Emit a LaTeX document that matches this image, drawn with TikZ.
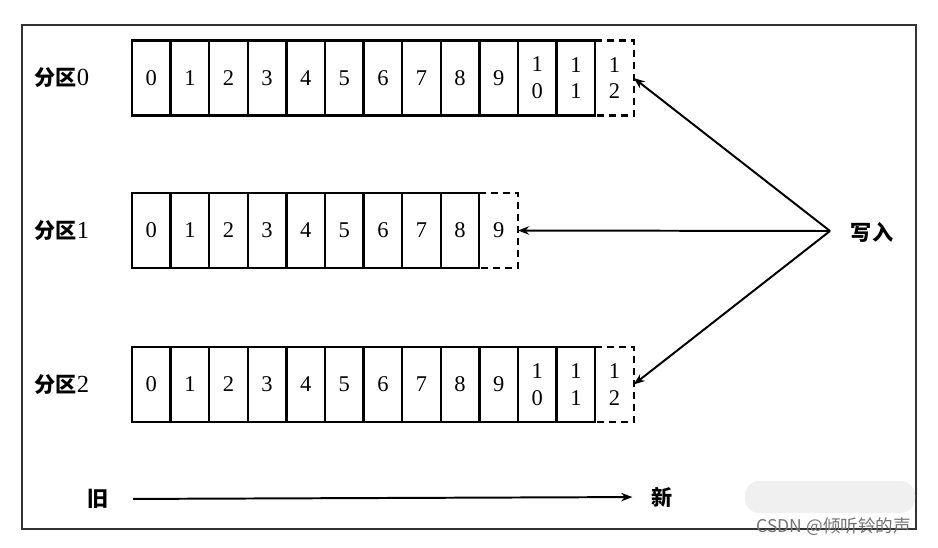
\documentclass[tikz,border=0pt]{standalone}
\usepackage{fontspec}
\setmainfont{Liberation Serif}
\newfontfamily\cjk{Noto Sans CJK SC}
\usetikzlibrary{positioning, arrows.meta}
\tikzstyle{cell} = [rectangle, minimum width=27.4pt, minimum height=53.3pt, inner sep=0pt, outer sep=0pt, draw=black, line width=1.6pt, align=center, font=\fontsize{16}{19}\selectfont]
\tikzstyle{newcell} = [cell, draw=none]
\tikzstyle{dashedge} = [line width=1.6pt, dash pattern=on 5pt off 3.5pt]
\tikzstyle{partlabel} = [font=\fontsize{15}{18}\selectfont]
\tikzstyle{arrow} = [line width=1.4pt, -{Stealth[length=8pt, width=6pt]}]
\newcommand{\celltext}[1]{\ifnum#1>9 1\\\the\numexpr#1-10\relax\else#1\fi}

\begin{document}
\begin{tikzpicture}[x=0.025cm, y=-0.025cm]
    \useasboundingbox (0,0) rectangle (938,547);
    \draw[line width=1.5pt, black!80] (22,25) rectangle (916,529);

    %Partitions
    \foreach \r/\y/\last in {0/78/12, 1/230.5/9, 2/384.5/12} {
        \pgfmathtruncatemacro{\prev}{\last-1}
        \node (part\r) [partlabel] at (62,\y) {{\cjk\bfseries 分区}{\fontsize{17.5}{18}\selectfont\r}};
        \foreach \i in {0,...,\prev}
            \node (p\r c\i) [cell] at ({151.3+38.6*\i},\y) {\celltext{\i}};
        \node (p\r new) [newcell, right=0pt of p\r c\prev] {\celltext{\last}};
        \draw [dashedge] (p\r new.north west) -- (p\r new.north east) -- (p\r new.south east) -- (p\r new.south west);
    }

    %Writer
    \node (write) [partlabel] at (872,232) {\cjk\bfseries 写入};
    \coordinate (src) at (830,231);
    \draw [arrow] (src) -- (p0new.east);
    \draw [arrow] (src) -- (p1new.east);
    \draw [arrow] (src) -- (p2new.east);

    %Time axis
    \node (old) [partlabel] at (98,499) {\cjk\bfseries 旧};
    \node (new) [partlabel] at (662,497) {\cjk\bfseries 新};
    \draw [arrow, shorten <=14pt, shorten >=10pt] (old.east) -- (new.west);

    %Watermark
    \fill [black!6, rounded corners=10pt] (745,481) rectangle (915,513);
    \node (mark) [anchor=east, text=black!55, font=\cjk\fontsize{12.5}{14}\selectfont] at (916,527) {CSDN @倾听铃的声};
\end{tikzpicture}
\end{document}
